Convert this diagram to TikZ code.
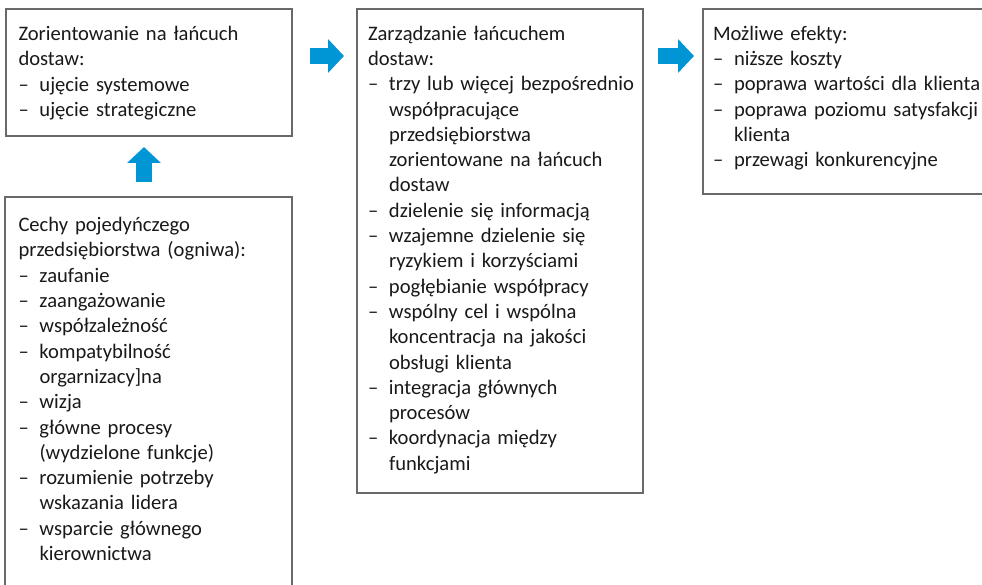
\documentclass[tikz,border=0pt]{standalone}
\usepackage{fontspec}
\setmainfont{Carlito}
\usetikzlibrary{arrows.meta}
\definecolor{flowblue}{RGB}{0,150,214}
\definecolor{frame}{RGB}{105,105,105}
\definecolor{ink}{RGB}{25,25,25}
\newcommand\dsh{\makebox[21pt][l]{–}}
\newcommand\ind{\hspace*{21pt}}
\tikzset{
  box/.style={draw=frame, line width=1.1pt, inner sep=0pt, outer sep=0pt, anchor=north west},
  txt/.style={anchor=base west, inner sep=0pt, outer sep=0pt, align=left, text width=300pt,
    text=ink, font=\fontsize{20.6}{25.3}\selectfont},
  flow/.style={draw=flowblue, line width=15.5pt, line cap=butt,
    -{Triangle[length=16pt, width=33pt]}}
}
\begin{document}
\begin{tikzpicture}[x=1pt, y=-1pt]
\useasboundingbox (0,0) rectangle (982,585);
\clip (0,0) rectangle (982,585);
% frames
\node[box, minimum width=286pt, minimum height=127pt] (orient) at (6,9) {};
\node[box, minimum width=287pt, minimum height=420pt] (cechy) at (5,197) {};
\node[box, minimum width=286pt, minimum height=484pt] (zarz) at (357,9) {};
\node[box, minimum width=300pt, minimum height=185pt] (efekty) at (703,9) {};
% texts
\node[txt] (orientT) at (18.5,40.7) {Zorientowanie na łańcuch\\dostaw:\\
\dsh ujęcie systemowe\\\dsh ujęcie strategiczne};
\node[txt] (cechyT) at (18.5,231.7) {Cechy pojedyńczego\\przedsiębiorstwa (ogniwa):\\
\dsh zaufanie\\\dsh zaangażowanie\\\dsh współzależność\\\dsh kompatybilność\\\ind orgarnizacy]na\\
\dsh wizja\\\dsh główne procesy\\\ind (wydzielone funkcje)\\\dsh rozumienie potrzeby\\\ind wskazania lidera\\
\dsh wsparcie głównego\\\ind kierownictwa};
\node[txt] (zarzT) at (368,40.2) {Zarządzanie łańcuchem\\dostaw:\\
\dsh trzy lub więcej bezpośrednio\\\ind współpracujące\\\ind przedsiębiorstwa\\\ind zorientowane na łańcuch\\\ind dostaw\\
\dsh dzielenie się informacją\\\dsh wzajemne dzielenie się\\\ind ryzykiem i korzyściami\\
\dsh pogłębianie współpracy\\\dsh wspólny cel i wspólna\\\ind koncentracja na jakości\\\ind obsługi klienta\\
\dsh integracja głównych\\\ind procesów\\\dsh koordynacja między\\\ind funkcjami};
\node[txt] (efektyT) at (713,40.2) {Możliwe efekty:\\
\dsh niższe koszty\\\dsh poprawa wartości dla klienta\\\dsh poprawa poziomu satysfakcji\\\ind klienta\\
\dsh przewagi konkurencyjne};
% block arrows
\coordinate (up0) at (144,182);
\coordinate (up1) at (144,147);
\coordinate (r0) at (310,56);
\coordinate (r1) at (344,56);
\coordinate (s0) at (658,56);
\coordinate (s1) at (694,56);
\draw[flow] (up0) -- (up1);
\draw[flow] (r0) -- (r1);
\draw[flow] (s0) -- (s1);
\end{tikzpicture}
\end{document}
